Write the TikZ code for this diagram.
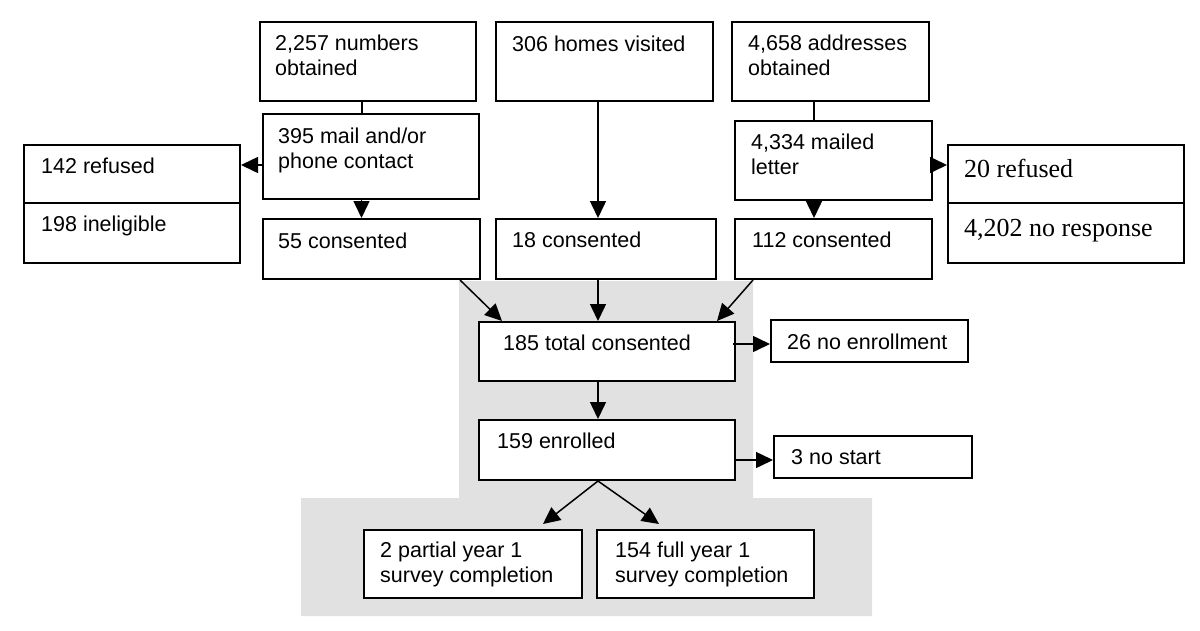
\documentclass[tikz,border=0pt]{standalone}
\usepackage{fontspec}
\setmainfont{Liberation Sans}
\newfontfamily\timesf{Liberation Serif}
\usetikzlibrary{arrows.meta}
\definecolor{graybg}{RGB}{225,225,225}
\begin{document}
\begin{tikzpicture}[x=1pt,y=-1pt,
  box/.style={draw, line width=2pt, fill=white, inner sep=0pt, anchor=north west},
  txt/.style={inner sep=0pt, anchor=base west, font=\fontsize{21.5}{25}\selectfont},
  serift/.style={inner sep=0pt, anchor=base west, font=\timesf\fontsize{26}{30}\selectfont},
  conn/.style={line width=1.5pt},
  arr/.style={conn, -{Triangle[length=17pt,width=16pt]}}]
\useasboundingbox (0,0) rectangle (1200,630);
% gray background
\fill[graybg] (459,281) -- (753,281) -- (753,498) -- (872,498) -- (872,616)
  -- (301,616) -- (301,498) -- (459,498) -- cycle;
% boxes
\node[box, minimum width=216pt, minimum height=79pt] (A) at (259,21) {};
\node[box, minimum width=216pt, minimum height=85pt] (B) at (262,113) {};
\node[box, minimum width=217pt, minimum height=60pt] (C) at (262,218) {};
\node[box, minimum width=216pt, minimum height=118pt] (R1) at (23,144) {};
\node[box, minimum width=217pt, minimum height=79pt] (D) at (495,21) {};
\node[box, minimum width=220pt, minimum height=60pt] (E) at (495,218) {};
\node[box, minimum width=197pt, minimum height=79pt] (F) at (731,21) {};
\node[box, minimum width=197pt, minimum height=79pt] (G) at (734,120) {};
\node[box, minimum width=197pt, minimum height=60pt] (H) at (734,218) {};
\node[box, minimum width=236pt, minimum height=118pt] (R2) at (947,144) {};
\node[box, minimum width=256pt, minimum height=59pt] (T) at (478,321) {};
\node[box, minimum width=197pt, minimum height=42pt] (N1) at (770,319) {};
\node[box, minimum width=256pt, minimum height=60pt] (L) at (478,419) {};
\node[box, minimum width=198pt, minimum height=42pt] (N2) at (773,435) {};
\node[box, minimum width=218pt, minimum height=68pt] (P) at (363,529) {};
\node[box, minimum width=217pt, minimum height=68pt] (Q) at (596,529) {};
% dividers
\draw[line width=2pt] ([yshift=-59pt]R1.north west) -- ([yshift=-59pt]R1.north east);
\draw[line width=2pt] ([yshift=-59pt]R2.north west) -- ([yshift=-59pt]R2.north east);
% texts
\node[txt] (tA) at (275,50) {\begin{tabular}[t]{@{}l@{}}2,257 numbers\\obtained\end{tabular}};
\node[txt] (tB) at (278,143) {\begin{tabular}[t]{@{}l@{}}395 mail and/or\\phone contact\end{tabular}};
\node[txt] (tR1a) at (41,173) {142 refused};
\node[txt] (tR1b) at (41,231) {198 ineligible};
\node[txt] (tC) at (278,248) {55 consented};
\node[txt] (tD) at (512,51) {306 homes visited};
\node[txt] (tE) at (512,247) {18 consented};
\node[txt] (tF) at (748,50) {\begin{tabular}[t]{@{}l@{}}4,658 addresses\\obtained\end{tabular}};
\node[txt] (tG) at (751,149) {\begin{tabular}[t]{@{}l@{}}4,334 mailed\\letter\end{tabular}};
\node[txt] (tH) at (752,247) {112 consented};
\node[serift] (tR2a) at (964,177) {20 refused};
\node[serift] (tR2b) at (964,236) {4,202 no response};
\node[txt] (tT) at (503,350) {185 total consented};
\node[txt] (tL) at (497,448) {159 enrolled};
\node[txt] (tN1) at (787,349) {26 no enrollment};
\node[txt] (tN2) at (791,464) {3 no start};
\node[txt] (tP) at (380,557) {\begin{tabular}[t]{@{}l@{}}2 partial year 1\\survey completion\end{tabular}};
\node[txt] (tQ) at (615,557) {\begin{tabular}[t]{@{}l@{}}154 full year 1\\survey completion\end{tabular}};
% connectors
\draw[conn] ([xshift=-6pt]A.south) -- ([xshift=-6pt]A.south |- B.north);
\draw[arr] ([xshift=-9.5pt]B.south) -- ([xshift=-9.5pt]B.south |- C.north);
\draw[arr] ([yshift=-8.5pt]B.west) -- ([yshift=-8.5pt]B.west -| R1.east);
\draw[arr] ([xshift=-6.5pt]D.south) -- ([xshift=-6.5pt]D.south |- E.north);
\draw[conn] ([xshift=-16.5pt]F.south) -- ([xshift=-16.5pt]F.south |- G.north);
\draw[arr] ([xshift=-19.5pt]G.south) -- ([xshift=-19.5pt]G.south |- H.north);
\draw[arr] ([yshift=-4.5pt]G.east) -- ([yshift=-4.5pt]G.east -| R2.west);
\draw[arr] ([xshift=-21pt]C.south east) -- ([xshift=24pt]T.north west);
\draw[arr] ([xshift=-8pt]E.south) -- ([xshift=-8pt]E.south |- T.north);
\draw[arr] ([xshift=19pt]H.south west) -- ([xshift=-19pt]T.north east);
\draw[arr] ([xshift=-3pt,yshift=7.5pt]T.east) -- ([yshift=7.5pt]T.east -| N1.west);
\draw[arr] ([xshift=-9pt]T.south) -- ([xshift=-9pt]T.south |- L.north);
\draw[arr] ([yshift=-10pt]L.east) -- ([yshift=-10pt]L.east -| N2.west);
\draw[arr] ([xshift=-9pt]L.south) -- ([xshift=70pt,yshift=5pt]P.north);
\draw[arr] ([xshift=-9pt]L.south) -- ([xshift=-46.5pt,yshift=5pt]Q.north);
\end{tikzpicture}
\end{document}
